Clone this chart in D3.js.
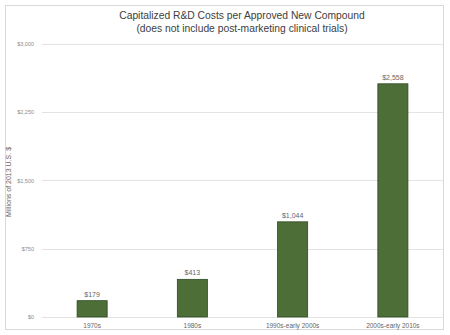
<!DOCTYPE html>
<html><head><meta charset="utf-8">
<script src="https://cdn.jsdelivr.net/npm/d3@7"></script>
<style>body{margin:0;background:#fff}svg{display:block}</style>
</head><body>
<script>
const categories = ["1970s", "1980s", "1990s-early 2000s", "2000s-early 2010s"];
const values = [179, 413, 1044, 2558];
const valueLabels = ["$179", "$413", "$1,044", "$2,558"];
const yTicks = [0, 750, 1500, 2250, 3000];
const yTickLabels = ["$0", "$750", "$1,500", "$2,250", "$3,000"];
const titleLines = ["Capitalized R&D Costs per Approved New Compound", "(does not include post-marketing clinical trials)"];
const yTitle = "Millions of 2013 U.S. $";

const W = 450, H = 335;
const svg = d3.select("body").append("svg").attr("width", W).attr("height", H);
const font = "Liberation Sans, Arial, sans-serif";

svg.append("rect").attr("x", 5.5).attr("y", 5.5).attr("width", 438).attr("height", 324)
  .attr("fill", "#fff").attr("stroke", "#d9d9d9");

const x = d3.scaleBand().domain(categories).range([42, 443]).paddingInner(0.7).paddingOuter(0.35);
const y = d3.scaleLinear().domain([0, 3000]).range([317, 43.5]);

const grid = svg.append("g");
grid.selectAll("line").data(yTicks).join("line")
  .attr("x1", 42).attr("x2", 443)
  .attr("y1", d => Math.round(y(d)) + 0.5).attr("y2", d => Math.round(y(d)) + 0.5)
  .attr("stroke", "#e3e3e3");

const yAxis = d3.axisLeft(y).tickValues(yTicks).tickFormat((d, i) => yTickLabels[i]).tickSize(0).tickPadding(8);
const ga = svg.append("g").attr("transform", "translate(42,0)").call(yAxis);
ga.select(".domain").remove();
ga.selectAll("text").attr("font-family", font).attr("font-size", 5.5).attr("fill", "#8c8c8c");

svg.append("g").selectAll("rect").data(values).join("rect")
  .attr("x", (d, i) => x(categories[i]))
  .attr("width", x.bandwidth())
  .attr("y", d => y(d))
  .attr("height", d => y(0) - y(d))
  .attr("fill", "#4d6e37").attr("stroke", "#2e4a22").attr("stroke-width", 0.8);

svg.append("g").selectAll("text").data(values).join("text")
  .attr("x", (d, i) => x(categories[i]) + x.bandwidth() / 2)
  .attr("y", d => y(d) - 4)
  .attr("text-anchor", "middle").attr("font-family", font).attr("font-size", 7)
  .attr("fill", "#666")
  .text((d, i) => valueLabels[i]);

const xAxis = d3.axisBottom(x).tickSize(0).tickPadding(6);
const gx = svg.append("g").attr("transform", "translate(0,317)").call(xAxis);
gx.select(".domain").remove();
gx.selectAll("text").attr("font-family", font).attr("font-size", 6.5).attr("fill", "#666");

svg.append("g").selectAll("text").data(titleLines).join("text")
  .attr("x", 242).attr("y", (d, i) => 19 + i * 13)
  .attr("text-anchor", "middle").attr("font-family", font).attr("font-size", 10.3)
  .attr("fill", "#404040").text(d => d);

svg.append("text").attr("transform", "translate(11,182) rotate(-90)")
  .attr("text-anchor", "middle").attr("font-family", font).attr("font-size", 7)
  .attr("fill", "#666").text(yTitle);
</script>
</body></html>
